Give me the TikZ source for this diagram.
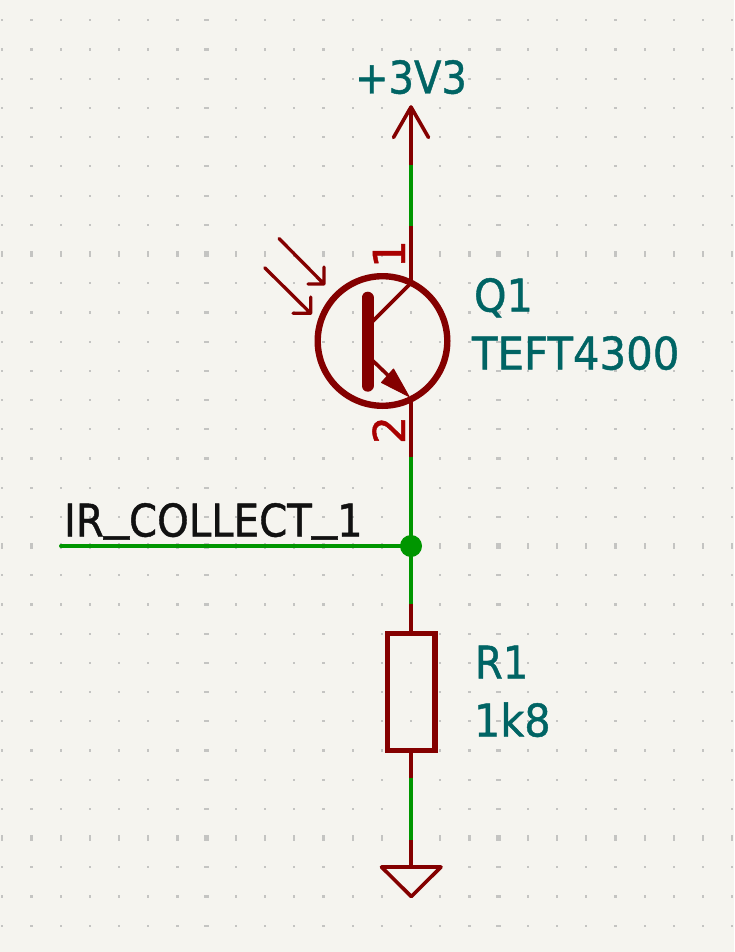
\documentclass[tikz,border=0pt]{standalone}
\usepackage{fontspec}
\setmainfont[FakeBold=1]{DejaVu Sans}
\definecolor{bgc}{HTML}{F5F4EF}
\definecolor{bodyc}{HTML}{840000}
\definecolor{wirec}{HTML}{009600}
\definecolor{fieldc}{HTML}{006464}
\definecolor{pinnum}{HTML}{A90000}
\definecolor{labelc}{HTML}{111111}
\definecolor{dotc}{HTML}{C4C4C2}
\newcommand{\sx}[2]{\scalebox{#1}[1]{#2}}
\newcommand{\usc}{\raisebox{7.5pt}{\scalebox{1.25}[1]{\_}}}
\tikzset{
  wire/.style={draw=wirec,line width=4pt,line cap=round},
  pinline/.style={draw=bodyc,line width=3.6pt,line cap=round,line join=round},
  field/.style={inner sep=0pt,outer sep=0pt,anchor=base west,text=fieldc,font=\fontsize{45}{45}\selectfont},
  netlabel/.style={inner sep=0pt,outer sep=0pt,anchor=base west,text=labelc,font=\fontsize{45}{45}\selectfont},
  pinno/.style={inner sep=0pt,outer sep=0pt,anchor=base,text=pinnum,rotate=90,font=\fontsize{44}{44}\selectfont},
}
\begin{document}
\begin{tikzpicture}[x=1pt,y=-1pt]
\useasboundingbox (0,0) rectangle (734,952);
\fill[bgc] (0,0) rectangle (734,952);
% grid
\foreach \i in {0,...,25}{
  \foreach \k in {-18,...,13}{
    \pgfmathsetmacro{\gx}{2.3+29.2*\i}
    \pgfmathsetmacro{\gy}{546+29.2*\k}
    \pgfmathsetmacro{\gw}{(\i==7||\i==17)?2.6:1.1}
    \pgfmathsetmacro{\gh}{(\k==-10||\k==0||\k==10)?2.6:1.1}
    \fill[dotc] (\gx-\gw,\gy-\gh) rectangle (\gx+\gw,\gy+\gh);
  }
}
% anchors
\coordinate (vcc) at (411,107);
\coordinate (vccA) at (411,165);
\coordinate (vccB) at (411,226);
\coordinate (col) at (411,283);
\coordinate (emi) at (411,397);
\coordinate (emiB) at (411,457);
\coordinate (junA) at (411,604);
\coordinate (rtop) at (411,633);
\coordinate (rbot) at (411,751);
\coordinate (gndA) at (411,778);
\coordinate (gndB) at (411,840);
\coordinate (gnd) at (411,867);
\coordinate (lab) at (61,546);
% wires
\draw[pinline,line cap=butt] (vcc) -- (vccA);
\draw[pinline,line cap=butt] (vccB) -- (col);
\draw[pinline,line cap=butt] (emi) -- (emiB);
\draw[pinline,line cap=butt] (junA) -- (rtop);
\draw[pinline,line cap=butt] (rbot) -- (gndA);
\draw[pinline,line cap=butt] (gndB) -- (gnd);
\draw[wire,line cap=butt] (vccA) -- (vccB);
\draw[wire,line cap=butt] (emiB) -- (junA);
\draw[wire,line cap=butt] (gndA) -- (gndB);
\node[circle,fill=wirec,minimum size=22pt,inner sep=0pt] (jun) at (411,546) {};
\draw[wire] (lab) -- (jun.center);
% power symbol
\coordinate (pl) at (393.5,137.5);
\coordinate (pr) at (428.5,137.5);
\draw[pinline] (pl) -- (vcc) -- (pr);
% ground symbol
\coordinate (gl) at (381.5,867);
\coordinate (gr) at (441,867);
\coordinate (gt) at (411.3,896.5);
\draw[pinline] (gl) -- (gr) -- (gt) -- cycle;
% resistor
\node[draw=bodyc,line width=5.4pt,minimum width=47.5pt,minimum height=117.5pt,inner sep=0pt] (r1) at (411.2,692) {};
% transistor
\node[circle,draw=bodyc,line width=6.4pt,minimum size=129.6pt,inner sep=0pt] (q) at (382.5,341) {};
\coordinate (bt) at (367.5,297.7);
\coordinate (bb) at (367.5,385.7);
\draw[bodyc,line width=12pt,line cap=round] (bt) -- (bb);
\coordinate (ci) at (370,324);
\coordinate (ei) at (370,358);
\draw[pinline,line cap=round] (ci) -- (col);
\draw[pinline] (ei) -- (395,382);
\fill[bodyc,draw=bodyc,line width=1pt,line join=round] (409,396.5) -- (393.5,369) -- (381.5,382.5) -- cycle;
% light arrows
\coordinate (a1s) at (279,238.5);
\coordinate (a1e) at (324,284);
\draw[pinline,line width=3.3pt] (a1s) -- (a1e) (324,267) -- (a1e) -- (308,284);
\coordinate (a2s) at (264.7,267.7);
\coordinate (a2e) at (310.7,313.3);
\draw[pinline,line width=3.3pt] (a2s) -- (a2e) (310.7,297) -- (a2e) -- (293,313.3);
% texts
\node[field] (t3v3) at (355,93.5) {\sx{0.89}{+3V3}};
\node[field] (tq1) at (474,311.5) {\sx{0.92}{Q1}};
\node[field] (tteft) at (472,369.5) {\sx{0.93}{TEFT4300}};
\node[field] (tr1) at (475,678.5) {\sx{0.89}{R1}};
\node[field] (t1k8) at (474,736.5) {\sx{0.92}{1k8}};
\node[netlabel] (tlab) at (64,536.5) {\sx{0.895}{IR\usc COLLECT\usc 1}};
\node[pinno] (p1) at (405,254) {1};
\node[pinno] (p2) at (405,430) {2};
\end{tikzpicture}
\end{document}
